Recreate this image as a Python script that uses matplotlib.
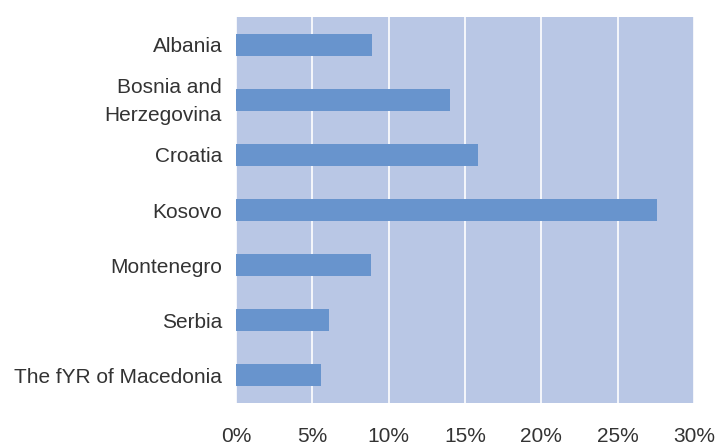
import matplotlib
matplotlib.use('Agg')
import matplotlib.pyplot as plt
import matplotlib.transforms as mtransforms
from matplotlib.ticker import FuncFormatter

countries = ['Albania', 'Bosnia and\nHerzegovina', 'Croatia', 'Kosovo',
             'Montenegro', 'Serbia', 'The fYR of Macedonia']
values = [8.9, 14.0, 15.85, 27.55, 8.85, 6.1, 5.55]
ticks = [0, 5, 10, 15, 20, 25, 30]

plt.rcParams['font.family'] = ['Liberation Sans', 'DejaVu Sans']

fig = plt.figure(figsize=(7.24, 4.45), dpi=100)
ax = fig.add_axes((236 / 724, 1 - 403 / 445, (694 - 236) / 724, (403 - 17) / 445))
ax.set_facecolor('#b9c7e5')

y = list(range(len(countries)))
ax.barh(y, values, height=0.4, color='#6894cd', zorder=3)
ax.set_ylim(len(countries) - 0.5, -0.5)
ax.set_xlim(0, 30)
ax.set_xticks(ticks)
ax.xaxis.set_major_formatter(FuncFormatter(lambda v, p: f'{v:.0f}%'))
ax.grid(axis='x', color='white', linewidth=1.2, zorder=1)
ax.set_yticks(y)
ax.set_yticklabels(countries, multialignment='right', linespacing=1.65)
for s in ax.spines.values():
    s.set_visible(False)
ax.tick_params(length=0, labelsize=15, colors='#333333', pad=10)
ax.tick_params(axis='x', pad=17)

# two-line label sits a bit higher in the original
lab = ax.get_yticklabels()[1]
lab.set_transform(lab.get_transform() + mtransforms.ScaledTranslation(0, 5 / 100, fig.dpi_scale_trans))

fig.savefig('out.png')
